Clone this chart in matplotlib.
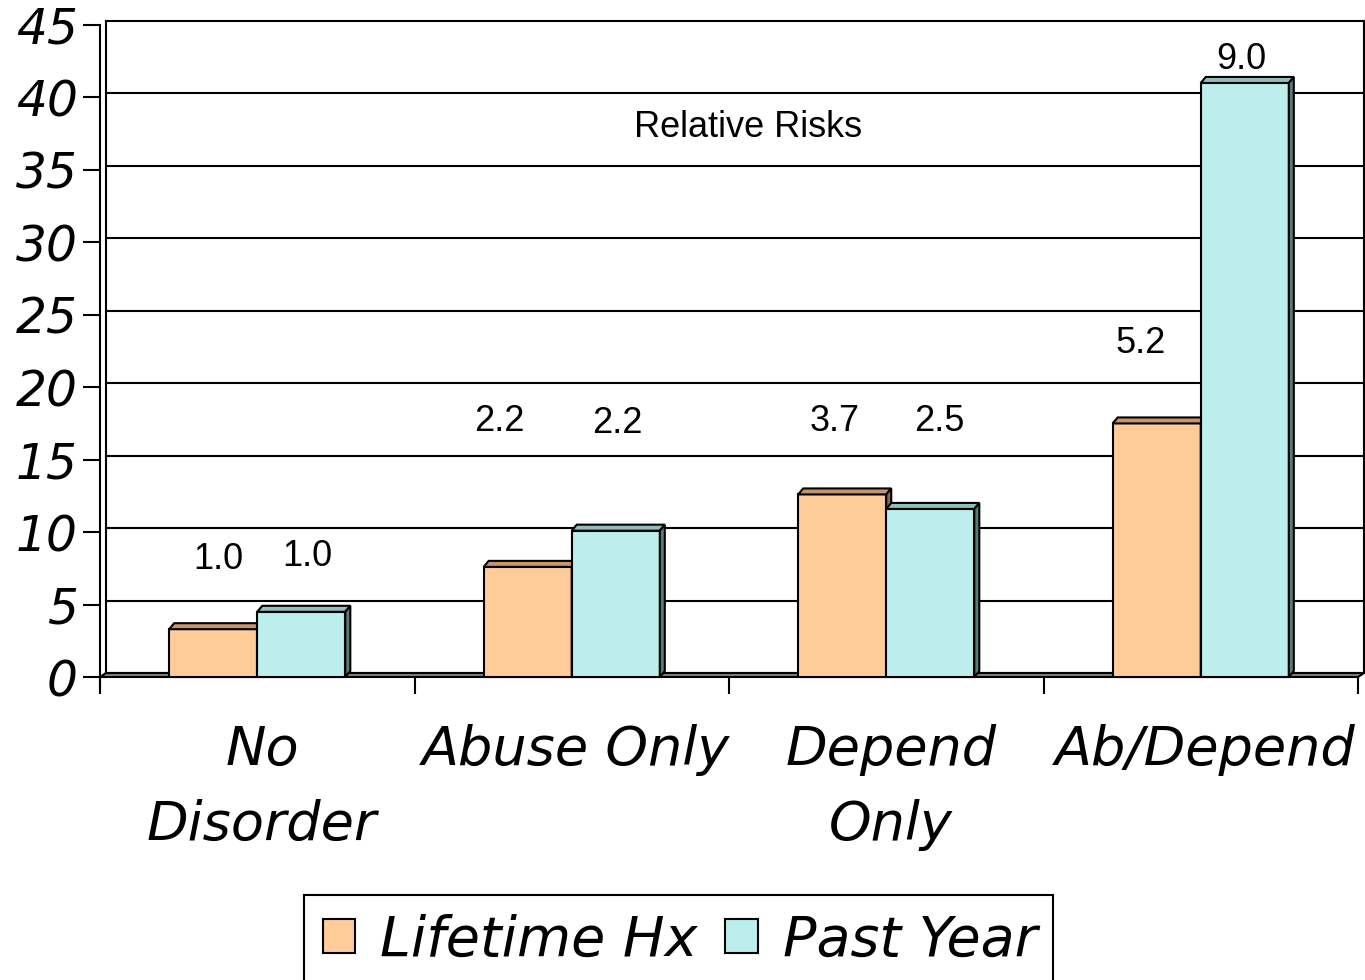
import matplotlib
matplotlib.use("Agg")
import matplotlib.pyplot as plt
import matplotlib.transforms as mtransforms
from matplotlib.patches import Polygon, Patch, Rectangle


# Chart data
categories = ["No\nDisorder", "Abuse Only", "Depend\nOnly", "Ab/Depend"]
lifetime_hx = [3.3, 7.6, 12.6, 17.5]
past_year = [4.5, 10.1, 11.6, 41.0]
lifetime_rr = ["1.0", "2.2", "3.7", "5.2"]
past_year_rr = ["1.0", "2.2", "2.5", "9.0"]
y_ticks = [0, 5, 10, 15, 20, 25, 30, 35, 40, 45]

# Where the relative risk labels sit (x offset from category, y in data units)
lifetime_rr_dx = [-0.125, -0.23, -0.165, -0.19]
lifetime_rr_y = [8.1, 17.6, 17.6, 23.0]
past_year_rr_dx = [0.16, 0.145, 0.17, 0.13]
past_year_rr_y = [8.3, 17.5, 17.6, 42.6]

# Colours
life_front = "#FFCC99"
life_top = "#C4966C"
life_side = "#8A6A4C"
past_front = "#BBEEEC"
past_top = "#8FBFBC"
past_side = "#587C78"

fig = plt.figure(figsize=(13.65, 9.8), dpi=100)

W, H = 1365, 980
left_px, right_px = 100, 1358
zero_px, top_px = 677, 25
ax = fig.add_axes([
    left_px / W,
    (H - zero_px) / H,
    (right_px - left_px) / W,
    (zero_px - top_px) / H
])

n = len(categories)
ax.set_xlim(-0.5, n - 0.5)
ax.set_ylim(0, 45)

px_per_x = (right_px - left_px) / n
px_per_y = (zero_px - top_px) / 45.0

# Back wall offset (pixels)
wall_dx, wall_dy = 6, 4
wall = ax.transData + mtransforms.ScaledTranslation(
    wall_dx / 100, wall_dy / 100, fig.dpi_scale_trans
)

# Gridlines on the back wall
for y in y_ticks:
    ax.plot([-0.5, n - 0.5], [y, y], color="black", lw=1.5,
            transform=wall, clip_on=False, zorder=1)

# Back wall left and right edges
ax.plot([-0.5, -0.5], [0, 45], color="black", lw=1.5,
        transform=wall, clip_on=False, zorder=1)
ax.plot([n - 0.5, n - 0.5], [0, 45], color="black", lw=1.5,
        transform=wall, clip_on=False, zorder=1)

# Floor
fdx = wall_dx / px_per_x
fdy = wall_dy / px_per_y
floor = Polygon(
    [(-0.5, 0), (n - 0.5, 0), (n - 0.5 + fdx, fdy), (-0.5 + fdx, fdy)],
    closed=True, facecolor="#808080", edgecolor="black", lw=1.5,
    clip_on=False, zorder=2
)
ax.add_patch(floor)

# Bars with a small 3D depth
bar_w = 0.28
bar_dx = 5 / px_per_x
bar_dy = 6 / px_per_y


def draw_bars(xs, values, front, top, side):
    ax.bar(xs, values, width=bar_w, color=front, edgecolor="black",
           linewidth=1.5, zorder=3, clip_on=False)
    for x, v in zip(xs, values):
        x0 = x - bar_w / 2
        x1 = x + bar_w / 2
        ax.add_patch(Polygon(
            [(x0, v), (x1, v), (x1 + bar_dx, v + bar_dy), (x0 + bar_dx, v + bar_dy)],
            closed=True, facecolor=top, edgecolor="black", lw=1.5,
            zorder=3, clip_on=False
        ))
        ax.add_patch(Polygon(
            [(x1, 0), (x1 + bar_dx, bar_dy), (x1 + bar_dx, v + bar_dy), (x1, v)],
            closed=True, facecolor=side, edgecolor="black", lw=1.5,
            zorder=3, clip_on=False
        ))


centers = list(range(n))
draw_bars([c - bar_w / 2 for c in centers], lifetime_hx,
          life_front, life_top, life_side)
draw_bars([c + bar_w / 2 for c in centers], past_year,
          past_front, past_top, past_side)

# Relative risk labels
for i in range(n):
    ax.text(i + lifetime_rr_dx[i], lifetime_rr_y[i], lifetime_rr[i],
            ha="center", va="center", fontsize=26,
            family="Liberation Sans", zorder=5)
    ax.text(i + past_year_rr_dx[i], past_year_rr_y[i], past_year_rr[i],
            ha="center", va="center", fontsize=26,
            family="Liberation Sans", zorder=5)

ax.text(1.56, 37.9, "Relative Risks", ha="center", va="center",
        fontsize=26, family="Liberation Sans", zorder=5)

# Axes styling
for side in ["top", "right", "bottom"]:
    ax.spines[side].set_visible(False)
ax.spines["left"].set_linewidth(1.5)
ax.spines["left"].set_zorder(4)
ax.plot([-0.5, -0.5], [0, -12 / px_per_y], color="black", lw=1.5,
        clip_on=False, zorder=4)

ax.set_yticks(y_ticks)
ax.set_yticklabels([str(t) for t in y_ticks], fontsize=35,
                   fontstyle="italic", family="DejaVu Sans")
ax.tick_params(axis="y", length=12, width=1.5, pad=4)

ax.set_xticks([i - 0.5 for i in range(n + 1)])
ax.set_xticklabels([])
ax.tick_params(axis="x", which="major", length=12, width=1.5)
ax.set_xticks([c + 0.015 for c in centers], minor=True)
ax.set_xticklabels(categories, minor=True, fontsize=39,
                   fontstyle="italic", family="DejaVu Sans",
                   linespacing=1.55)
ax.tick_params(axis="x", which="minor", length=0, pad=34)
ax.set_facecolor("none")

# Legend frame runs off the bottom of the figure
fig.patches.append(Rectangle(
    (304 / W, -0.02), (1053 - 304) / W, 0.02 + 1 - 895 / H,
    transform=fig.transFigure, facecolor="white", edgecolor="black",
    lw=1.5, zorder=0
))

handles = [
    Patch(facecolor=life_front, edgecolor="black", lw=1.5, label="Lifetime Hx"),
    Patch(facecolor=past_front, edgecolor="black", lw=1.5, label="Past Year"),
]
leg = fig.legend(
    handles=handles,
    loc="center",
    bbox_to_anchor=(680 / W, 1 - 940 / H),
    borderaxespad=0,
    ncol=2,
    prop={"family": "DejaVu Sans", "style": "italic", "size": 40},
    handlelength=0.58,
    handleheight=0.58,
    handletextpad=0.45,
    columnspacing=0.5,
    borderpad=0.2,
    frameon=False,
)

fig.savefig("out.png", dpi=100)
